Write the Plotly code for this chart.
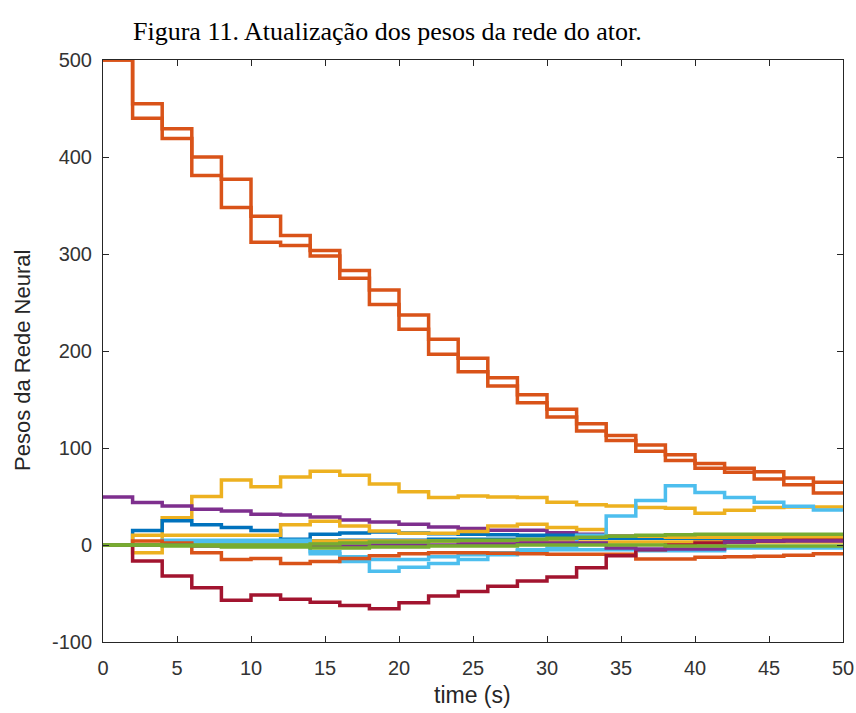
import plotly.graph_objects as go

# time instants (s), weights updated every 2 s (step plot)
t = list(range(0, 52, 2))

orange_upper = [500, 455, 429, 400, 377, 339, 319, 303.5, 283, 263, 237, 212, 192.5, 172.5, 155, 140, 125, 113, 103, 93, 84, 79, 75.4, 69, 64.6, 64.6]
orange_lower = [500, 440, 419, 381, 348, 312, 308.7, 298, 275, 248, 222.5, 196.7, 178.7, 164, 146.6, 132, 117.4, 107.8, 96.7, 87, 79, 75, 68, 62, 53.6, 53.6]
yellow_big = [0, -8, 28, 50, 67, 60, 70, 76, 72, 63, 55, 49, 50.5, 49.5, 49, 44, 41.5, 40.3, 38.6, 38, 32.7, 35.8, 38.6, 39.3, 39.3, 39.3]
yellow_mid = [0, 10, 10, 10, 10, 10, 21, 24.5, 19.5, 14.5, 12, 12, 14, 19.5, 21.5, 18, 16, 9, 9, 8, 8, 8, 8, 8, 8, 8]
yellow_small = [0, 0, 2, 2, 2, 2, 2, 4, 4, 4, 4, 4, 4, 4, 4, 3, 3, 3, 3, 3, 3, 3, 3, 3, 3, 3]
purple_big = [49.6, 43.7, 40.3, 36.9, 35, 31.7, 31, 28.9, 25.8, 23.8, 21.4, 18.6, 17, 15.2, 15.2, 12.7, 11, 9.3, 8.3, 7.6, 6, 5.5, 5, 5, 5, 5]
purple_small = [0, 0, 0, -1, -1, -1, -1, -1, -1, 0, 0, 0, 1, 1, 2, 2, 2, -3, -4, -4, -4, 3, 4, 4, 4, 4]
blue_a = [0, 15, 25, 21, 18, 15, 6, 11, 12.5, 13.5, 12.5, 11.5, 11, 10.5, 10, 10, 9.5, 9, 8.5, 8, 8, 7.5, 7.5, 7, 7, 7]
blue_b = [0, 0, 3, 3, 3, 3, 3, 4, 5, 5, 5, 6, 6, 6, 6, 6, 7, 7, 7, 7, 7, 6, 6, 6, 6, 6]
lightblue_a = [0, 0, 5, 5, 5, 5, 5, -9, -17, -27, -23, -19, -15, -10, -5, -3, 10, 30, 46, 61, 54, 49, 44, 40, 36, 36]
lightblue_b = [0, 0, 3, 3, 3, 3, 3, -7, -12, -15, -15, -12, -10, -8, -6, -5, -5, -5, -6, -6, -6, -3, -3, -3, -3, -3]
darkred = [0, -16.5, -32, -44, -57, -51.6, -56, -58.9, -62.3, -65.8, -59.6, -52.7, -48, -42.4, -37.2, -33, -23.4, -11, -5, 0, 2, 3, 4, 5, 5, 5]
orange_small = [0, 4, 2, -8, -15, -14, -19, -17, -14, -11, -9, -8, -8, -8.5, -9, -9.5, -9.5, -9.5, -14.5, -14.5, -12.5, -12, -11.5, -10.5, -9, -9]
green_a = [0, 0, 0, 0, 0, 0, 0, 1, 2, 3, 3, 4, 5, 5, 6, 7, 8, 9, 10, 10.5, 11, 11, 11, 11, 11, 11]
green_b = [0, 0, -1, -1, -2, -2, -2, -3, -3, -2, -2, -1, -1, -1, 0, 0, 0, 0, 0, -1, -1, -1, -1, -1, -1, -1]

x_ticks = list(range(0, 55, 5))
y_ticks = list(range(-100, 600, 100))
y_tick_text = [str(v) for v in y_ticks]  # plain hyphen as in the reference

BLUE, ORANGE, YELLOW, PURPLE, GREEN, LBLUE, DRED = (
    "#0072BD", "#D95319", "#EDB120", "#7E2F8E", "#77AC30", "#4DBEEE", "#A2142F")

series = [
    (yellow_big, YELLOW), (purple_big, PURPLE), (blue_a, BLUE), (blue_b, BLUE),
    (yellow_mid, YELLOW), (yellow_small, YELLOW), (lightblue_b, LBLUE),
    (lightblue_a, LBLUE), (orange_small, ORANGE), (darkred, DRED),
    (purple_small, PURPLE), (green_b, GREEN), (green_a, GREEN),
    (orange_lower, ORANGE), (orange_upper, ORANGE),
]

fig = go.Figure()
for vals, col in series:
    fig.add_trace(go.Scatter(x=t, y=vals, mode="lines", line=dict(color=col, width=3.5, shape="hv"),
                             showlegend=False, hoverinfo="skip"))

axis_common = dict(showline=True, linecolor="#262626", linewidth=1, mirror="ticks",
                   ticks="inside", ticklen=6, tickcolor="#262626", showgrid=False,
                   zeroline=False, automargin=False,
                   tickfont=dict(family="Liberation Sans, Arial", size=20, color="#333333"))

fig.update_xaxes(range=[0, 50], tickvals=x_ticks, ticklabelstandoff=8, **axis_common)
fig.update_yaxes(range=[-100, 500], tickvals=y_ticks, ticktext=y_tick_text, ticklabelstandoff=6,
                 **axis_common)

W, H = 856, 713
px_l, px_r, px_t, px_b = 103, 843, 60, 642   # plot area in pixels
pw, ph = px_r - px_l, px_b - px_t


def paper_x(sx):
    return (sx - px_l) / pw


def paper_y(sy):
    return (px_b - sy) / ph


fig.update_layout(
    width=W, height=H, margin=dict(l=px_l, r=W - px_r, t=px_t, b=H - px_b, autoexpand=False),
    plot_bgcolor="white", paper_bgcolor="white",
    annotations=[
        dict(text="Figura 11. Atualização dos pesos da rede do ator.", xref="paper", yref="paper",
             x=paper_x(131), y=paper_y(32), xanchor="left", yanchor="middle", showarrow=False,
             font=dict(family="Liberation Serif, Times New Roman", size=26, color="black")),
        dict(text="time (s)", xref="paper", yref="paper", x=paper_x(472), y=paper_y(695),
             xanchor="center", yanchor="middle", showarrow=False,
             font=dict(family="Liberation Sans, Arial", size=23, color="#262626")),
        dict(text="Pesos da Rede Neural", xref="paper", yref="paper", x=paper_x(23), y=paper_y(361),
             xanchor="center", yanchor="middle", textangle=-90, showarrow=False,
             font=dict(family="Liberation Sans, Arial", size=22, color="#262626")),
    ],
)

fig.write_html("out.html", config={"displayModeBar": False},
               post_script="document.body.style.margin='0';document.body.style.overflow='hidden';")
